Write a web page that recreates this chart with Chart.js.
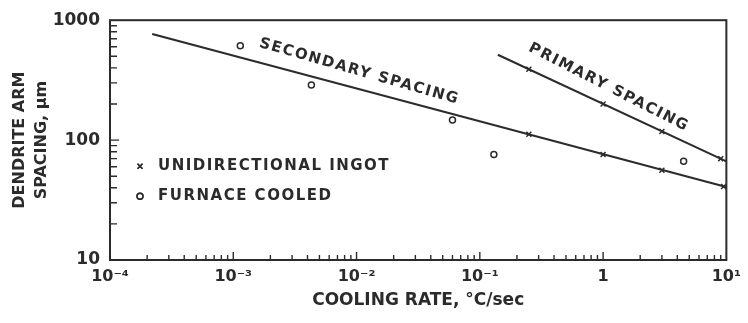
<!DOCTYPE html>
<html>
<head>
<meta charset="utf-8">
<script src="https://cdn.jsdelivr.net/npm/chart.js@4.4.1/dist/chart.umd.min.js"></script>
<style>
    body { margin: 0; background: #fff; }
    canvas { display: block; }
</style>
</head>
<body>
<canvas id="chart" width="748" height="323"></canvas>
<script>
// Data (log-log)
const secondaryX = [2.2e-4, 10];
const secondaryY = [767, 40.6];
const primaryX = [0.14, 10];
const primaryY = [515, 66.5];
const ingotX = [0.25, 1, 3, 9.5, 0.25, 1, 3, 9];
const ingotY = [112, 76, 56, 41, 390, 200, 118, 70];
const furnaceX = [1.14e-3, 4.3e-3, 0.06, 0.13, 4.5];
const furnaceY = [611, 288, 147, 76, 66.5];

const xTicks = [1e-4, 1e-3, 1e-2, 1e-1, 1, 10];
const xTickLabels = ['10⁻⁴', '10⁻³', '10⁻²', '10⁻¹', '1', '10¹'];
const yTicks = [10, 100, 1000];
const yTickLabels = ['10', '100', '1000'];

const legendItems = ['UNIDIRECTIONAL INGOT', 'FURNACE COOLED'];

const INK = '#2b2b2b';
const FONT = "'DejaVu Sans', 'Liberation Sans', sans-serif";

const toPoints = (xs, ys) => xs.map((v, i) => ({ x: v, y: ys[i] }));

// Curve labels, anchored in data space
const curveLabels = [
    { text: 'SECONDARY SPACING', x: 0.0105, y: 373, angle: 16 },
    { text: 'PRIMARY SPACING', x: 1.11, y: 275, angle: 27 }
];

const framePlugin = {
    id: 'frame',
    afterDatasetsDraw(chart) {
        const { ctx, chartArea: a, scales: { x, y } } = chart;
        ctx.save();
        ctx.strokeStyle = INK;
        ctx.lineWidth = 2;
        ctx.strokeRect(a.left, a.top, a.right - a.left, a.bottom - a.top);

        // inward ticks
        ctx.lineWidth = 1.4;
        ctx.beginPath();
        for (let d = -4; d < 1; d++) {
            for (let m = 1; m <= 9; m++) {
                const px = x.getPixelForValue(m * Math.pow(10, d));
                const len = m === 1 ? 8 : 5;
                ctx.moveTo(px, a.bottom);
                ctx.lineTo(px, a.bottom - len);
            }
        }
        for (let d = 1; d < 3; d++) {
            for (let m = 1; m <= 9; m++) {
                const py = y.getPixelForValue(m * Math.pow(10, d));
                const len = m === 1 ? 9 : 7;
                ctx.moveTo(a.left, py);
                ctx.lineTo(a.left + len, py);
            }
        }
        ctx.stroke();

        // curve labels
        ctx.fillStyle = INK;
        ctx.font = 'bold 15px ' + FONT;
        ctx.textAlign = 'center';
        ctx.textBaseline = 'middle';
        if ('letterSpacing' in ctx) ctx.letterSpacing = '1.5px';
        curveLabels.forEach(l => {
            ctx.save();
            ctx.translate(x.getPixelForValue(l.x), y.getPixelForValue(l.y));
            ctx.rotate(l.angle * Math.PI / 180);
            ctx.fillText(l.text, 0, 0);
            ctx.restore();
        });

        // legend
        ctx.textAlign = 'left';
        const lx = a.left + 30;
        const styles = [
            { pointStyle: 'crossRot', radius: 3.5, borderWidth: 1.5, rotation: 0 },
            { pointStyle: 'circle', radius: 3, borderWidth: 1.5, rotation: 0 }
        ];
        legendItems.forEach((t, i) => {
            const ly = a.top + 146 + i * 30;
            ctx.fillStyle = '#fff';
            Chart.helpers.drawPoint(ctx, styles[i], lx, ly);
            ctx.stroke();
            ctx.fillStyle = INK;
            ctx.fillText(t, lx + 18, ly);
        });
        ctx.restore();
    }
};

const ctx = document.getElementById('chart').getContext('2d');
new Chart(ctx, {
    type: 'scatter',
    data: {
        datasets: [
            { label: 'Secondary spacing', data: toPoints(secondaryX, secondaryY), showLine: true, borderColor: INK, borderWidth: 2, pointRadius: 0 },
            { label: 'Primary spacing', data: toPoints(primaryX, primaryY), showLine: true, borderColor: INK, borderWidth: 2, pointRadius: 0 },
            { label: 'Unidirectional ingot', data: toPoints(ingotX, ingotY), pointStyle: 'crossRot', pointRadius: 3.5, borderColor: INK, borderWidth: 1.5, backgroundColor: 'transparent' },
            { label: 'Furnace cooled', data: toPoints(furnaceX, furnaceY), pointStyle: 'circle', pointRadius: 3, borderColor: INK, borderWidth: 1.5, backgroundColor: '#fff' }
        ]
    },
    options: {
        responsive: false,
        animation: false,
        layout: { padding: { left: 0, top: 17, right: 20, bottom: 0 } },
        plugins: { legend: { display: false }, tooltip: { enabled: false } },
        scales: {
            x: {
                type: 'logarithmic',
                min: 1e-4,
                max: 10,
                afterBuildTicks: s => { s.ticks = xTicks.map(v => ({ value: v })); },
                afterFit: s => { s.height = 63; },
                grid: { display: false, drawTicks: false },
                border: { display: false },
                ticks: {
                    color: INK,
                    padding: 7,
                    maxRotation: 0,
                    font: { family: FONT, size: 16, weight: 'bold' },
                    callback: (v) => xTickLabels[xTicks.findIndex(t => Math.abs(Math.log10(t) - Math.log10(v)) < 1e-6)]
                },
                title: {
                    display: true,
                    text: 'COOLING RATE, °C/sec',
                    color: INK,
                    font: { family: FONT, size: 17, weight: 'bold' },
                    padding: { top: 0, bottom: 12 }
                }
            },
            y: {
                type: 'logarithmic',
                min: 10,
                max: 1000,
                afterBuildTicks: s => { s.ticks = yTicks.map(v => ({ value: v })); },
                afterFit: s => { s.width = 110; },
                grid: { display: false, drawTicks: false },
                border: { display: false },
                ticks: {
                    color: INK,
                    padding: 10,
                    font: { family: FONT, size: 17, weight: 'bold' },
                    callback: (v) => yTickLabels[yTicks.indexOf(Math.round(v))]
                },
                title: {
                    display: true,
                    text: ['DENDRITE ARM', 'SPACING, μm'],
                    color: INK,
                    font: { family: FONT, size: 16, weight: 'bold', lineHeight: 1.35 },
                    padding: { top: 9, bottom: 0 }
                }
            }
        }
    },
    plugins: [framePlugin]
});
</script>
</body>
</html>
